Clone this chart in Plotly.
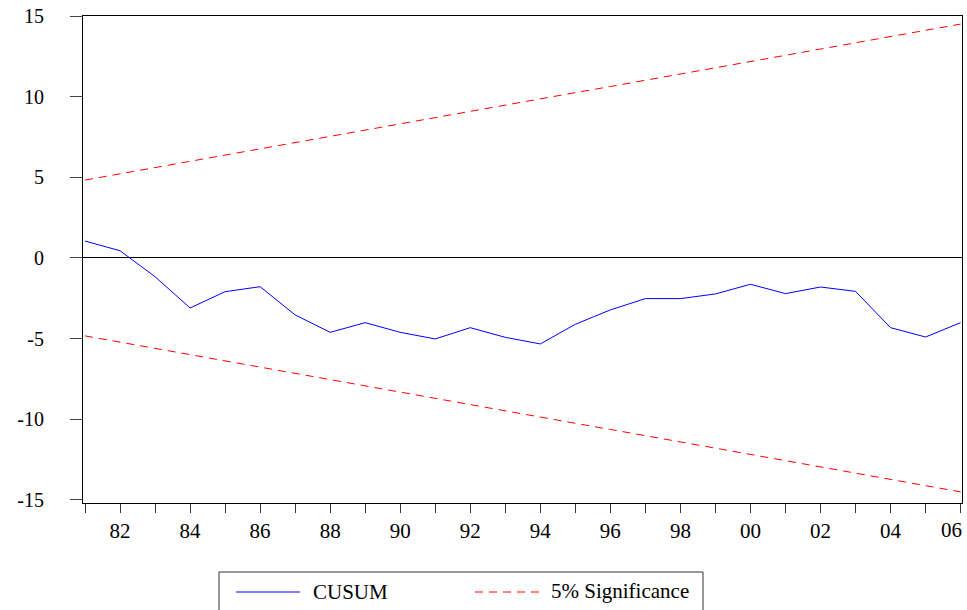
import plotly.graph_objects as go

# ---- data ----
years = list(range(1981, 2007))
cusum = [1.05, 0.45, -1.16, -3.10, -2.09, -1.78, -3.53, -4.61, -4.01, -4.61,
         -5.02, -4.32, -4.92, -5.33, -4.11, -3.22, -2.52, -2.52, -2.23, -1.63,
         -2.21, -1.80, -2.07, -4.32, -4.90, -4.01]
upper = [4.83, 5.22, 5.60, 6.00, 6.38, 6.77, 7.15, 7.54, 7.93, 8.31,
         8.70, 9.09, 9.47, 9.86, 10.25, 10.63, 11.02, 11.41, 11.79, 12.18,
         12.57, 12.95, 13.34, 13.72, 14.11, 14.50]
lower = [-4.83, -5.22, -5.60, -6.00, -6.38, -6.77, -7.15, -7.54, -7.93, -8.31,
         -8.70, -9.09, -9.47, -9.86, -10.25, -10.63, -11.02, -11.41, -11.79, -12.18,
         -12.57, -12.95, -13.34, -13.72, -14.11, -14.50]
tick_years = list(range(1982, 2007, 2))
tick_labels = ["82", "84", "86", "88", "90", "92", "94", "96", "98", "00", "02", "04", "06"]
y_ticks = [-15, -10, -5, 0, 5, 10, 15]
y_labels = ["-15", "-10", "-5", "0", "5", "10", "15"]
series_names = ["CUSUM", "5% Significance"]

FONT = "Liberation Serif"
W, H = 967, 610
ML, MR, MT, MB = 83, 5, 16, 107
PW, PH = W - ML - MR, H - MT - MB

def px(x):
    return (x - ML) / PW

def py(y):
    return (H - MB - y) / PH

fig = go.Figure()
fig.add_trace(go.Scatter(x=years, y=cusum, mode="lines", name=series_names[0],
                         line=dict(color="#0000FF", width=1), showlegend=False))
fig.add_trace(go.Scatter(x=years, y=upper, mode="lines", name=series_names[1],
                         line=dict(color="#FF0000", width=1, dash="8px,6px"), showlegend=False))
fig.add_trace(go.Scatter(x=years, y=lower, mode="lines", name=series_names[1],
                         line=dict(color="#FF0000", width=1, dash="8px,6px"), showlegend=False))

fig.update_layout(
    width=W, height=H,
    margin=dict(l=ML, r=MR, t=MT, b=MB, pad=0),
    paper_bgcolor="white", plot_bgcolor="white",
    font=dict(family=FONT, size=19, color="black"),
    showlegend=False,
)
fig.update_xaxes(
    range=[1980.943, 2006.04],
    # the last label sits against the right edge, so it is placed as an annotation below
    tickmode="array", tickvals=tick_years[:-1], ticktext=tick_labels[:-1],
    ticks="outside", ticklen=9, tickcolor="#333", tickwidth=1,
    minor=dict(ticks="outside", ticklen=9, tickcolor="#333", dtick=1, tick0=1981, showgrid=False),
    showline=True, linecolor="black", linewidth=1, mirror=True,
    showgrid=False, zeroline=False,
    tickfont=dict(family=FONT, size=21, color="black"),
    ticklabelstandoff=0,
)
fig.update_yaxes(
    range=[-15.19, 15.001],
    tickmode="array", tickvals=y_ticks, ticktext=y_labels,
    ticks="outside", ticklen=12, tickcolor="#444", tickwidth=1,
    showline=True, linecolor="black", linewidth=1, mirror=True,
    showgrid=False, zeroline=True, zerolinecolor="black", zerolinewidth=1,
    tickfont=dict(family=FONT, size=20, color="black"),
    ticklabelstandoff=22,
)

fig.add_annotation(xref="x", yref="paper", x=tick_years[-1], y=py(530),
                   text=tick_labels[-1], showarrow=False, xanchor="right", yanchor="middle",
                   xshift=3, font=dict(family=FONT, size=21, color="black"))

# ---- legend box drawn at the bottom ----
fig.add_shape(type="rect", xref="paper", yref="paper",
              x0=px(219), x1=px(703), y0=py(572), y1=py(615),
              line=dict(color="#333", width=1), fillcolor="rgba(0,0,0,0)")
fig.add_shape(type="line", xref="paper", yref="paper",
              x0=px(236), x1=px(300), y0=py(592), y1=py(592),
              line=dict(color="#0000FF", width=1))
fig.add_shape(type="line", xref="paper", yref="paper",
              x0=px(475), x1=px(541), y0=py(592), y1=py(592),
              line=dict(color="#FF0000", width=1, dash="8px,6px"))
fig.add_annotation(xref="paper", yref="paper", x=px(311), y=py(592),
                   text=series_names[0], showarrow=False, xanchor="left", yanchor="middle",
                   font=dict(family=FONT, size=21, color="black"))
fig.add_annotation(xref="paper", yref="paper", x=px(549), y=py(591),
                   text=series_names[1], showarrow=False, xanchor="left", yanchor="middle",
                   font=dict(family=FONT, size=21, color="black"))

fig.write_html("out.html",
               config={"displayModeBar": False},
               post_script="document.body.style.margin='0';document.body.style.overflow='hidden';")
